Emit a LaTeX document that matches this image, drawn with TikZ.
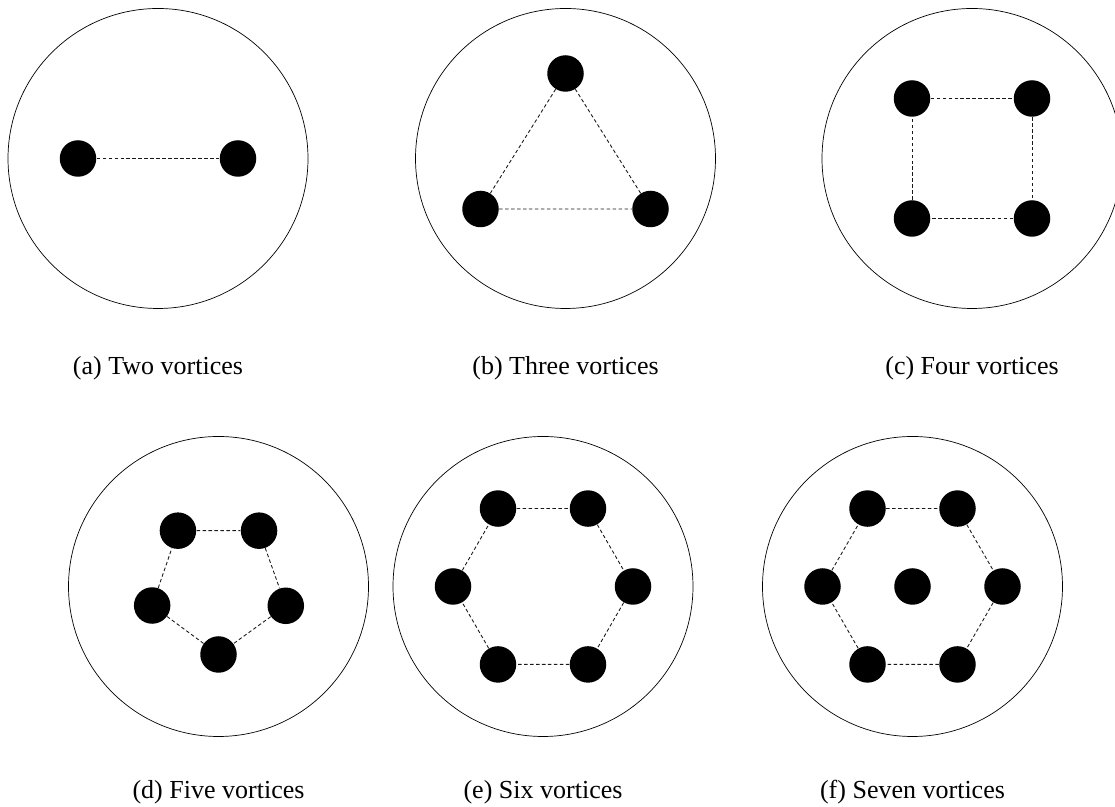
\documentclass[tikz,border=0pt]{standalone}
\usepackage{fontspec}
\setmainfont{Liberation Serif}
\usepackage{tikz}
\tikzset{vort/.style = {fill, circle, inner sep = 0, minimum size = 0.73cm}}
\tikzset{link/.style = {line width = 0.5pt, dash pattern = on 2pt off 1.4pt, black!90}}
\tikzset{disc/.style = {thin, black}}
\tikzset{capt/.style = {anchor = base, inner sep = 0,
                        font = \fontsize{14.8pt}{17pt}\selectfont}}

\begin{document}
\begin{tikzpicture}
    \useasboundingbox (0, 0) rectangle (22.3, 16.14);

    % two vortices
    \begin{scope}[shift = {(3.16, 12.97)}]
      \draw [disc] (0, 0) circle (3);
      \node [vort] (a1) at (-1.6, 0) {};
      \node [vort] (a2) at (1.6, 0) {};
      \draw [link] (a1) -- (a2);
      \node [capt] (capa) at (0, -4.33) {(a) Two vortices};
    \end{scope}

    % three vortices
    \begin{scope}[shift = {(11.31, 12.97)}]
      \draw [disc] (0, 0) circle (3);
      \node [vort] (b1) at (0, 1.7) {};
      \node [vort] (b2) at (-1.7, -1.01) {};
      \node [vort] (b3) at (1.7, -1.01) {};
      \draw [link] (b1) -- (b2) -- (b3) -- (b1);
      \node [capt] (capb) at (0, -4.33) {(b) Three vortices};
    \end{scope}

    % four vortices
    \begin{scope}[shift = {(19.44, 12.97)}]
      \draw [disc] (0, 0) circle (3);
      \node [vort] (c1) at (-1.2, 1.2) {};
      \node [vort] (c2) at (1.2, 1.2) {};
      \node [vort] (c3) at (1.2, -1.2) {};
      \node [vort] (c4) at (-1.2, -1.2) {};
      \draw [link] (c1) -- (c2) -- (c3) -- (c4) -- (c1);
      \node [capt] (capc) at (0, -4.33) {(c) Four vortices};
    \end{scope}

    % five vortices
    \begin{scope}[shift = {(4.37, 4.41)}]
      \draw [disc] (0, 0) circle (3);
      \node [vort] (d1) at (126:1.38) {};
      \node [vort] (d2) at (54:1.38) {};
      \node [vort] (d3) at (-16:1.4) {};
      \node [vort] (d4) at (-90:1.36) {};
      \node [vort] (d5) at (196:1.38) {};
      \draw [link] (d1) -- (d2) -- (d3) -- (d4) -- (d5) -- (d1);
      \node [capt] (capd) at (0, -4.25) {(d) Five vortices};
    \end{scope}

    % six vortices
    \begin{scope}[shift = {(10.86, 4.41)}]
      \draw [disc] (0, 0) circle (3);
      \node [vort] (e1) at (120:1.8) {};
      \node [vort] (e2) at (60:1.8) {};
      \node [vort] (e3) at (0:1.8) {};
      \node [vort] (e4) at (-60:1.8) {};
      \node [vort] (e5) at (-120:1.8) {};
      \node [vort] (e6) at (180:1.8) {};
      \draw [link] (e1) -- (e2) -- (e3) -- (e4) -- (e5) -- (e6) -- (e1);
      \node [capt] (cape) at (0, -4.25) {(e) Six vortices};
    \end{scope}

    % seven vortices
    \begin{scope}[shift = {(18.25, 4.41)}]
      \draw [disc] (0, 0) circle (3);
      \node [vort] (f1) at (120:1.8) {};
      \node [vort] (f2) at (60:1.8) {};
      \node [vort] (f3) at (0:1.8) {};
      \node [vort] (f4) at (-60:1.8) {};
      \node [vort] (f5) at (-120:1.8) {};
      \node [vort] (f6) at (180:1.8) {};
      \node [vort] (f7) at (0, 0) {};
      \draw [link] (f1) -- (f2) -- (f3) -- (f4) -- (f5) -- (f6) -- (f1);
      \node [capt] (capf) at (0, -4.25) {(f) Seven vortices};
    \end{scope}
  \end{tikzpicture}
\end{document}
